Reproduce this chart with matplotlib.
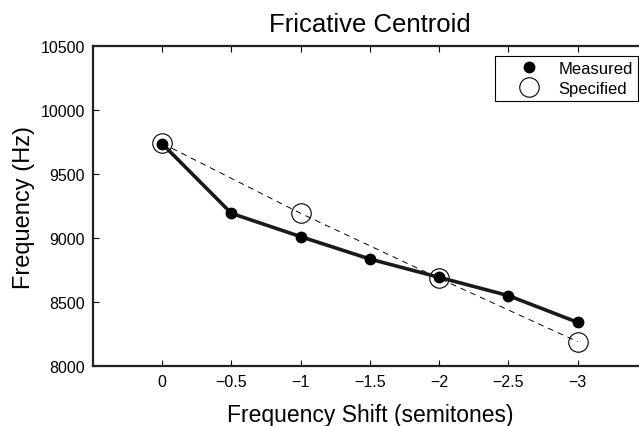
import numpy as np
import matplotlib.pyplot as plt
from matplotlib.lines import Line2D

plt.rcParams['font.family'] = ['Liberation Sans', 'DejaVu Sans']

# frequency shift in semitones
shift = [0, -0.5, -1, -1.5, -2, -2.5, -3]
measured = [9737, 9193, 9011, 8836, 8693, 8550, 8341]

spec_shift = [0, -1, -2, -3]
specified = [9740, 9193, 8685, 8190]

fig = plt.figure(figsize=(6.39, 4.27), dpi=100)
ax = fig.add_axes([0.1455, 0.1405, 0.867, 0.749])

ax.plot(spec_shift, specified, '--', color='black', lw=0.7, dashes=(6, 5))
ax.plot(spec_shift, specified, 'o', mfc='none', mec='black', ms=14, mew=0.8)
ax.plot(shift, measured, '-', color='#1a1a1a', lw=2.6)
ax.plot(shift, measured, 'o', color='black', ms=7.5)

ax.set_xlim(0.5, -3.5)
ax.set_ylim(8000, 10500)
ax.set_xticks([0, -0.5, -1, -1.5, -2, -2.5, -3])
ax.set_xticklabels(['0', '\u22120.5', '\u22121', '\u22121.5', '\u22122', '\u22122.5', '\u22123'])
ax.set_yticks(np.arange(8000, 10501, 500))
ax.tick_params(direction='in', top=True, right=True, labelsize=11.5, length=4, width=0.8, pad=6)
for s in ax.spines.values():
    s.set_linewidth(1.6)
    s.set_color('#222222')

ax.set_title('Fricative Centroid', fontsize=18.5, pad=11)
ax.set_xlabel('Frequency Shift (semitones)', fontsize=16.5, labelpad=10)
ax.set_ylabel('Frequency (Hz)', fontsize=17, labelpad=4)

handles = [Line2D([], [], ls='none', marker='o', color='black', ms=7.5),
           Line2D([], [], ls='none', marker='o', mfc='none', mec='black', ms=14, mew=0.8)]
leg = ax.legend(handles, ['Measured', 'Specified'], loc='upper left',
                bbox_to_anchor=(0.7256, 0.969), borderaxespad=0, fontsize=12,
                frameon=True, fancybox=False, edgecolor='black', framealpha=1,
                borderpad=0.3, labelspacing=0.3, handletextpad=0.0, handlelength=3.5)
leg.get_frame().set_linewidth(0.8)

fig.savefig('out.png', dpi=100)
